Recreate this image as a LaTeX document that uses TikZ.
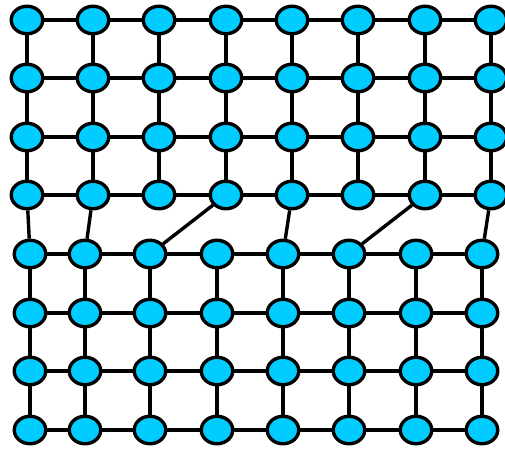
\documentclass[tikz,border=0pt]{standalone}
\usepackage{tikz}
\usepackage{xcolor}
\usetikzlibrary{shapes.geometric}
\definecolor{sitecol}{RGB}{0,204,255}

\begin{document}
\begin{tikzpicture}[x=1pt,y=-1pt,line width=3.4pt,
    site/.style={ellipse,draw,fill=sitecol,minimum width=31.5pt,minimum height=27.5pt,inner sep=0pt}]
    \useasboundingbox (0,0) rectangle (505,450);
    \clip (0,0) rectangle (505,450);
    % upper lattice
    \foreach \r/\y in {1/20,2/78,3/137,4/195}{
        \foreach \c/\x in {1/27,2/93,3/159,4/226,5/292,6/358,7/425,8/491}{
            \node[site] (n\r\c) at (\x,\y) {};
        }
    }
    % lower lattice
    \foreach \r/\y in {5/254,6/313,7/371,8/430}{
        \foreach \c/\x in {1/30,2/85,3/150,4/217,5/283,6/349,7/416,8/482}{
            \node[site] (n\r\c) at (\x,\y) {};
        }
    }
    % bonds along rows
    \foreach \r in {1,...,8}{
        \foreach \c/\d in {1/2,2/3,3/4,4/5,5/6,6/7,7/8}{
            \draw (n\r\c) -- (n\r\d);
        }
    }
    % bonds along columns
    \foreach \r/\s in {1/2,2/3,3/4,5/6,6/7,7/8}{
        \foreach \c in {1,...,8}{
            \draw (n\r\c) -- (n\s\c);
        }
    }
    % bonds across the seam
    \foreach \c/\d in {1/1,2/2,4/3,5/5,7/6,8/8}{
        \draw (n4\c) -- (n5\d);
    }
\end{tikzpicture}
\end{document}
